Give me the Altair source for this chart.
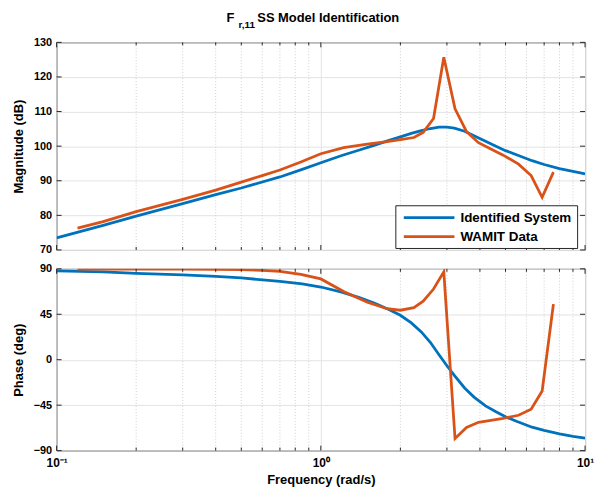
import altair as alt
import pandas as pd

# ---------------- data ----------------
series_names = ["Identified System", "WAMIT Data"]
series_colors = ["#0072BD", "#D95319"]

blue_freq = [0.1, 0.15, 0.2, 0.3, 0.4, 0.5, 0.7, 0.85, 1.0, 1.2, 1.4, 1.6, 1.8, 2.0,
             2.2, 2.4, 2.6, 2.8, 3.0, 3.2, 3.5, 3.8, 4.2, 4.6, 5.0, 5.5, 6.3, 7.0,
             8.0, 9.0, 10.0]
blue_mag = [73.5, 77.1, 79.8, 83.4, 86.0, 87.9, 91.1, 93.3, 95.2, 97.3, 98.9, 100.3,
            101.6, 102.7, 103.7, 104.5, 105.1, 105.5, 105.5, 105.2, 104.3, 103.0,
            101.4, 100.0, 98.7, 97.5, 95.8, 94.7, 93.5, 92.7, 92.0]
blue_phase = [88, 87, 85.5, 84, 82.5, 81, 77.5, 75, 72, 67, 61.5, 56, 50, 44, 36.5,
              27.5, 17, 5, -6, -15.5, -28, -37, -45.7, -51.5, -56.5, -61, -66.8, -70,
              -73.4, -76, -77.6]

wamit_freq = [0.12, 0.15, 0.2, 0.3, 0.4, 0.5, 0.6, 0.7, 0.84, 1.0, 1.22, 1.5, 1.78,
              2.0, 2.25, 2.44, 2.67, 2.92, 3.22, 3.56, 3.95, 4.4, 4.9, 5.6, 6.25,
              6.88, 7.59]
wamit_mag = [76.3, 78.2, 81.1, 84.6, 87.3, 89.6, 91.5, 93.1, 95.4, 97.8, 99.6, 100.6,
             101.3, 101.9, 102.5, 104.0, 108.0, 125.7, 110.8, 104.2, 101.0, 99.2,
             97.4, 94.8, 91.5, 85.2, 92.5]
wamit_phase = [89.8, 89.8, 89.8, 89.7, 89.5, 89.2, 88.5, 87.5, 84.5, 80, 67.5, 57,
               50.5, 49, 51.5, 58, 70, 87, -78, -67, -62, -60, -58, -55, -49, -31, 55]

mag_ticks = [70, 80, 90, 100, 110, 120, 130]
phase_ticks = [-90, -45, 0, 45, 90]
major_freq = [0.1, 1, 10]
minor_freq = [2e-1, 3e-1, 4e-1, 5e-1, 6e-1, 7e-1, 8e-1, 9e-1,
              2, 3, 4, 5, 6, 7, 8, 9]
freq_labels = ["10⁻¹", "10⁰", "10¹"]
title_parts = ["F", "r,11", "SS Model Identification"]

# ---------------- tables ----------------
curves = pd.concat([
    pd.DataFrame({"freq": blue_freq, "mag": blue_mag, "phase": blue_phase,
                  "series": series_names[0]}),
    pd.DataFrame({"freq": wamit_freq, "mag": wamit_mag, "phase": wamit_phase,
                  "series": series_names[1]}),
], ignore_index=True)
major_df = pd.DataFrame({"freq": major_freq})
minor_df = pd.DataFrame({"freq": minor_freq})
mag_df = pd.DataFrame({"mag": mag_ticks})
phase_df = pd.DataFrame({"phase": phase_ticks})

W, H1, H2 = 532, 209, 183
FONT = "Liberation Sans"
TXT = "#262626"
xscale = alt.Scale(type="log", domain=[0.1, 10], nice=False)
cscale = alt.Scale(domain=series_names, range=series_colors)
mag_scale = alt.Scale(domain=[70, 130], nice=False, zero=False)
ph_scale = alt.Scale(domain=[-90, 90], nice=False)
label_expr = ("datum.value < 0.5 ? '%s' : (datum.value < 5 ? '%s' : '%s')"
              % tuple(freq_labels))

x_axis_top = alt.Axis(values=major_freq, labels=False, ticks=False, domain=False,
                      grid=True, title=None)
x_axis_bot = alt.Axis(values=major_freq, labelExpr=label_expr, ticks=False,
                      domain=False, grid=True, labelFlush=False, labelPadding=7,
                      labelFontSize=12, labelOverlap=False,
                      title="Frequency  (rad/s)", titlePadding=5)
y_axis_top = alt.Axis(values=mag_ticks, ticks=False, domain=False, grid=True,
                      labelOverlap=False, labelPadding=5,
                      title="Magnitude (dB)", titlePadding=8)
y_axis_bot = alt.Axis(values=phase_ticks, ticks=False, domain=False, grid=True,
                      labelOverlap=False, labelPadding=5,
                      title="Phase (deg)", titlePadding=8)


def ticks_layers(H, ydf, yfield, yscale, xaxis, yaxis):
    layers = []
    for df, L in ((major_df, 5), (minor_df, 3)):
        layers.append(alt.Chart(df).mark_rule(color=TXT, strokeWidth=1).encode(
            x=alt.X("freq:Q", scale=xscale, axis=xaxis),
            y=alt.value(H), y2=alt.value(H - L)))
        layers.append(alt.Chart(df).mark_rule(color=TXT, strokeWidth=1).encode(
            x=alt.X("freq:Q", scale=xscale, axis=xaxis),
            y=alt.value(0), y2=alt.value(L)))
    layers.append(alt.Chart(ydf).mark_rule(color=TXT, strokeWidth=1).encode(
        y=alt.Y(yfield + ":Q", scale=yscale, axis=yaxis),
        x=alt.value(0), x2=alt.value(5)))
    layers.append(alt.Chart(ydf).mark_rule(color=TXT, strokeWidth=1).encode(
        y=alt.Y(yfield + ":Q", scale=yscale, axis=yaxis),
        x=alt.value(W), x2=alt.value(W - 5)))
    return layers


def minor_grid(xaxis):
    return alt.Chart(minor_df).mark_rule(color="#d0d0d0", strokeWidth=1,
                                         strokeDash=[1, 2]).encode(
        x=alt.X("freq:Q", scale=xscale, axis=xaxis))


# ---------------- top: magnitude ----------------
top_lines = alt.Chart(curves).mark_line(strokeWidth=2.8, clip=True).encode(
    x=alt.X("freq:Q", scale=xscale, axis=x_axis_top),
    y=alt.Y("mag:Q", scale=mag_scale, axis=y_axis_top),
    color=alt.Color("series:N", scale=cscale, sort=series_names,
                    legend=alt.Legend(title=None, orient="none", legendX=341, legendY=164,
                                      direction="vertical", symbolType="M-4.25,0H4.25",
                                      symbolStrokeWidth=2.8, symbolSize=144,
                                      symbolOffset=21.5, labelOffset=24,
                                      labelFont=FONT, labelFontWeight="bold",
                                      labelFontSize=13.5, labelColor="black",
                                      strokeColor=TXT, fillColor="white", padding=5,
                                      rowPadding=5)),
    detail="series:N",
)

title_df = pd.DataFrame({"t": title_parts})
t_main = alt.Chart(title_df).transform_filter(alt.datum.t == title_parts[2]).mark_text(
    font=FONT, fontWeight="bold", fontSize=13, align="left", baseline="alphabetic",
    color="black").encode(text="t:N", x=alt.value(202), y=alt.value(-20))
t_F = alt.Chart(title_df).transform_filter(alt.datum.t == title_parts[0]).mark_text(
    font=FONT, fontWeight="bold", fontSize=13, align="left", baseline="alphabetic",
    color="black").encode(text="t:N", x=alt.value(171), y=alt.value(-20))
t_sub = alt.Chart(title_df).transform_filter(alt.datum.t == title_parts[1]).mark_text(
    font=FONT, fontWeight="bold", fontSize=10, align="left", baseline="alphabetic",
    color="black").encode(text="t:N", x=alt.value(183), y=alt.value(-14))

top = alt.layer(minor_grid(x_axis_top), top_lines,
                *ticks_layers(H1, mag_df, "mag", mag_scale, x_axis_top, y_axis_top),
                t_F, t_sub, t_main).properties(width=W, height=H1)

# ---------------- bottom: phase ----------------
bot_lines = alt.Chart(curves).mark_line(strokeWidth=2.8, clip=True).encode(
    x=alt.X("freq:Q", scale=xscale, axis=x_axis_bot),
    y=alt.Y("phase:Q", scale=ph_scale, axis=y_axis_bot),
    color=alt.Color("series:N", scale=cscale, sort=series_names, legend=None),
    detail="series:N",
)
bottom = alt.layer(minor_grid(x_axis_bot), bot_lines,
                   *ticks_layers(H2, phase_df, "phase", ph_scale, x_axis_bot, y_axis_bot)
                   ).properties(width=W, height=H2)

chart = alt.vconcat(top, bottom, spacing=19, bounds="flush").resolve_scale(
    color="independent").resolve_legend(color="independent").properties(
    padding={"left": 11, "top": 10, "right": 0, "bottom": 0},
    background="white",
).configure_view(stroke=TXT, strokeWidth=1).configure_axis(
    labelFont=FONT, labelFontWeight="bold", labelFontSize=11, labelColor="black",
    titleFont=FONT, titleFontWeight="bold", titleFontSize=13, titleColor="black",
    gridColor="#e3e3e3", gridWidth=1, labelOverlap=False,
)

chart.save("out.html", embed_options={"renderer": "svg", "actions": False})
